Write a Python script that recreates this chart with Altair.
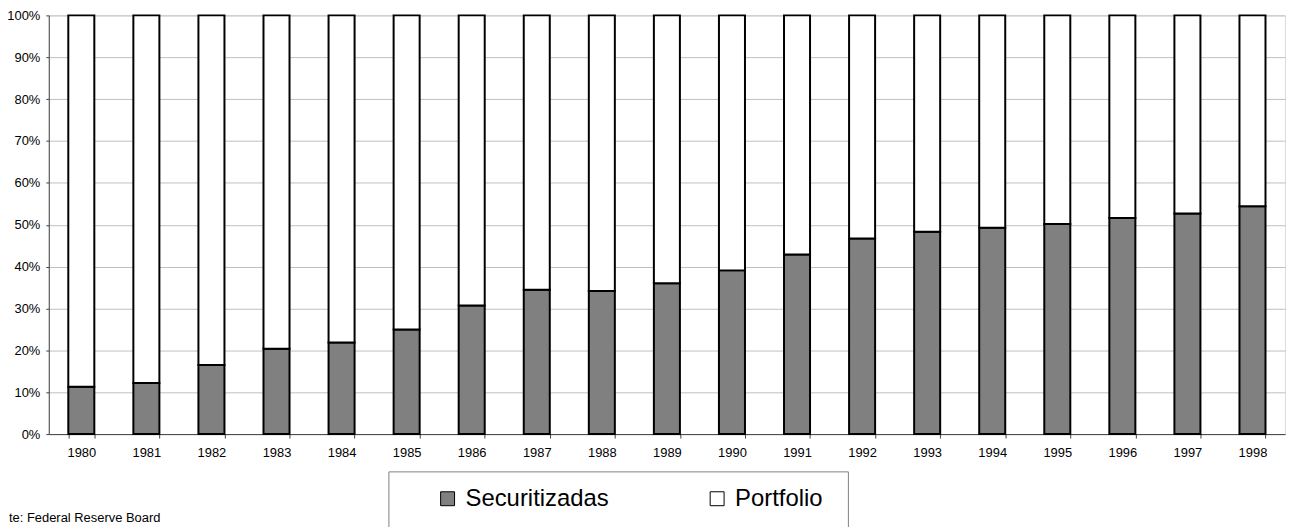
import altair as alt
import pandas as pd

years = [str(y) for y in range(1980, 1999)]
securitizadas = [11.3, 12.2, 16.5, 20.4, 21.9, 25.0, 30.7, 34.5, 34.2, 36.0,
                 39.1, 42.9, 46.7, 48.3, 49.3, 50.2, 51.6, 52.7, 54.4]
portfolio = [88.7, 87.8, 83.5, 79.6, 78.1, 75.0, 69.3, 65.5, 65.8, 64.0,
             60.9, 57.1, 53.3, 51.7, 50.7, 49.8, 48.4, 47.3, 45.6]
series = ["Securitizadas", "Portfolio"]
colors = ["#808080", "#ffffff"]
y_ticks = [0, 0.1, 0.2, 0.3, 0.4, 0.5, 0.6, 0.7, 0.8, 0.9, 1.0]
source_note = "te: Federal Reserve Board"

rows = []
for i, yr in enumerate(years):
    rows.append({"year": yr, "serie": series[0], "value": securitizadas[i], "ord": 0})
    rows.append({"year": yr, "serie": series[1], "value": portfolio[i], "ord": 1})
df = pd.DataFrame(rows)

FONT = "Liberation Sans"

bars = alt.Chart(df).mark_bar(stroke="black", strokeWidth=2).encode(
    x=alt.X("year:N", sort=years,
            scale=alt.Scale(paddingInner=0.6, paddingOuter=0.3),
            axis=alt.Axis(title=None, labelAngle=0, grid=False, tickBand="extent",
                          domainColor="#444444", tickColor="#444444", tickSize=4,
                          labelPadding=9, labelFontSize=13, labelColor="black",
                          labelFont=FONT)),
    y=alt.Y("value:Q", stack="normalize",
            scale=alt.Scale(domain=[0, 1], nice=False),
            axis=alt.Axis(title=None, format=".0%", values=y_ticks,
                          grid=True, gridColor="#c0c0c0", domainColor="#444444",
                          tickColor="#444444", tickSize=3, labelPadding=6,
                          labelFontSize=13, labelColor="black", labelFont=FONT)),
    color=alt.Color("serie:N", sort=series,
                    scale=alt.Scale(domain=series, range=colors),
                    legend=alt.Legend(title=None, orient="none", legendX=389, legendY=474,
                                      direction="horizontal", labelFontSize=24,
                                      labelFont=FONT, labelColor="black",
                                      symbolType="square", symbolSize=196,
                                      symbolStrokeColor="black", symbolStrokeWidth=1,
                                      symbolOpacity=1,
                                      columnPadding=96, labelOffset=6, padding=0)),
    order=alt.Order("ord:Q", sort="ascending"),
)

box = alt.Chart(pd.DataFrame({"k": [0]})).mark_rect(
    fill="white", stroke="#808080", strokeWidth=1
).encode(
    x=alt.value(342), x2=alt.value(804), y=alt.value(459), y2=alt.value(530)
)

note = alt.Chart(pd.DataFrame({"t": [source_note]})).mark_text(
    align="left", baseline="alphabetic", fontSize=13, font=FONT, color="black"
).encode(
    x=alt.value(-40), y=alt.value(509), text="t:N"
)

chart = alt.layer(box, bars, note).properties(
    width=1243, height=421,
    autosize=alt.AutoSizeParams(type="none"),
    padding={"left": 41, "top": 6, "right": 3, "bottom": 92},
).configure_view(stroke="#a0a0a0").configure(background="white")

chart.save("out.html", embed_options={"renderer": "svg", "actions": False})
